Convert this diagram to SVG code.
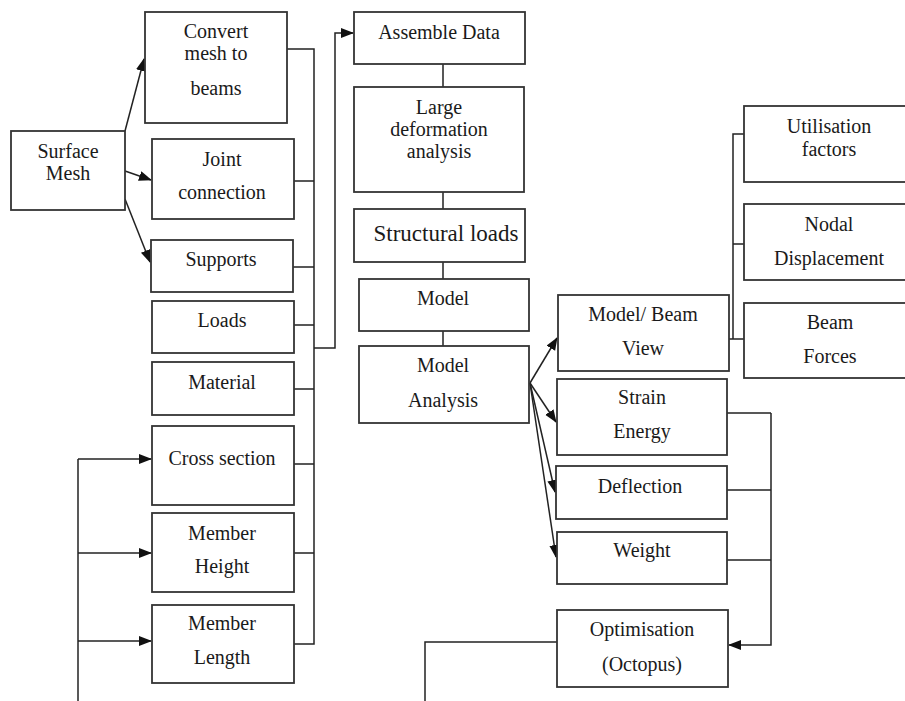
<svg xmlns="http://www.w3.org/2000/svg" width="905" height="701" viewBox="0 0 905 701">
<style>
.box{fill:#fff;stroke:#333;stroke-width:1.8}
.ln{fill:none;stroke:#222;stroke-width:1.5}
.arr{fill:none;stroke:#222;stroke-width:1.5;marker-end:url(#ah)}
text{font-family:"Liberation Serif","Times New Roman",serif;font-size:20px;fill:#1a1a1a;text-anchor:middle}
</style>
<defs>
<marker id="ah" markerUnits="userSpaceOnUse" markerWidth="14" markerHeight="11" refX="12" refY="5" orient="auto">
<path d="M0,0 L13,5 L0,10 z" fill="#111"/>
</marker>
</defs>
<rect width="905" height="701" fill="#fff"/>
<g id="connectors">
<path class="arr" d="M125,131 L144,59"/>
<path class="arr" d="M125,171 L151,180"/>
<path class="arr" d="M125,199 L150,262"/>
<path class="ln" d="M287,49 H314 V644 H294"/>
<path class="ln" d="M294,181 H314 M293,267 H314 M294,325 H314 M294,389 H314 M294,464 H314 M294,553 H314"/>
<path class="arr" d="M314,348 H335 V33 H353"/>
<path class="ln" d="M443,64 V87 M443,192 V209 M443,262 V279 M443,331 V346"/>
<path class="arr" d="M530,383 L557,338"/>
<path class="arr" d="M530,383 L556,422"/>
<path class="arr" d="M530,383 L555,492"/>
<path class="arr" d="M530,383 L556,557"/>
<path class="ln" d="M729,339 H744 M733,339 V134 H744 M733,244 H744"/>
<path class="ln" d="M727,413 H771 M727,490 H771 M727,560 H771"/>
<path class="arr" d="M771,413 V645 H729"/>
<path class="ln" d="M557,642 H425 V701"/>
<path class="ln" d="M78,701 V459"/>
<path class="arr" d="M78,459 H151"/>
<path class="arr" d="M78,553 H151"/>
<path class="arr" d="M78,641 H151"/>
</g>
<g id="surface-mesh"><rect class="box" x="11" y="131" width="114" height="79"/><text x="68" y="158">Surface</text><text x="68" y="180">Mesh</text></g>
<g id="convert"><rect class="box" x="145" y="12" width="142" height="111"/><text x="216" y="38">Convert</text><text x="216" y="60">mesh to</text><text x="216" y="95">beams</text></g>
<g id="joint"><rect class="box" x="152" y="139" width="142" height="80"/><text x="222" y="166">Joint</text><text x="222" y="199">connection</text></g>
<g id="supports"><rect class="box" x="151" y="240" width="142" height="52"/><text x="221" y="266">Supports</text></g>
<g id="loads"><rect class="box" x="152" y="301" width="142" height="52"/><text x="222" y="327">Loads</text></g>
<g id="material"><rect class="box" x="152" y="362" width="142" height="53"/><text x="222" y="389">Material</text></g>
<g id="cross-section"><rect class="box" x="152" y="426" width="142" height="79"/><text x="222" y="465">Cross section</text></g>
<g id="member-height"><rect class="box" x="152" y="513" width="142" height="79"/><text x="222" y="540">Member</text><text x="222" y="573">Height</text></g>
<g id="member-length"><rect class="box" x="152" y="605" width="142" height="78"/><text x="222" y="630">Member</text><text x="222" y="664">Length</text></g>
<g id="assemble"><rect class="box" x="354" y="12" width="171" height="52"/><text x="439" y="39">Assemble Data</text></g>
<g id="large-def"><rect class="box" x="354" y="87" width="170" height="105"/><text x="439" y="114">Large</text><text x="439" y="136">deformation</text><text x="439" y="158">analysis</text></g>
<g id="structural-loads"><rect class="box" x="354" y="209" width="171" height="53"/><text x="446" y="241" style="font-size:23px">Structural loads</text></g>
<g id="model"><rect class="box" x="359" y="279" width="170" height="52"/><text x="443" y="305">Model</text></g>
<g id="model-analysis"><rect class="box" x="359" y="346" width="170" height="77"/><text x="443" y="372">Model</text><text x="443" y="407">Analysis</text></g>
<g id="beam-view"><rect class="box" x="558" y="295" width="171" height="76"/><text x="643" y="321">Model/ Beam</text><text x="643" y="355">View</text></g>
<g id="strain-energy"><rect class="box" x="557" y="379" width="170" height="76"/><text x="642" y="404">Strain</text><text x="642" y="438">Energy</text></g>
<g id="deflection"><rect class="box" x="556" y="466" width="171" height="53"/><text x="640" y="493">Deflection</text></g>
<g id="weight"><rect class="box" x="557" y="532" width="170" height="52"/><text x="642" y="557">Weight</text></g>
<g id="optimisation"><rect class="box" x="557" y="610" width="171" height="77"/><text x="642" y="636">Optimisation</text><text x="642" y="671">(Octopus)</text></g>
<g id="utilisation"><rect class="box" x="744" y="106" width="172" height="76"/><text x="829" y="133">Utilisation</text><text x="829" y="156">factors</text></g>
<g id="nodal"><rect class="box" x="744" y="204" width="172" height="76"/><text x="829" y="231">Nodal</text><text x="829" y="265">Displacement</text></g>
<g id="beam-forces"><rect class="box" x="744" y="303" width="172" height="75"/><text x="830" y="329">Beam</text><text x="830" y="363">Forces</text></g>
</svg>
